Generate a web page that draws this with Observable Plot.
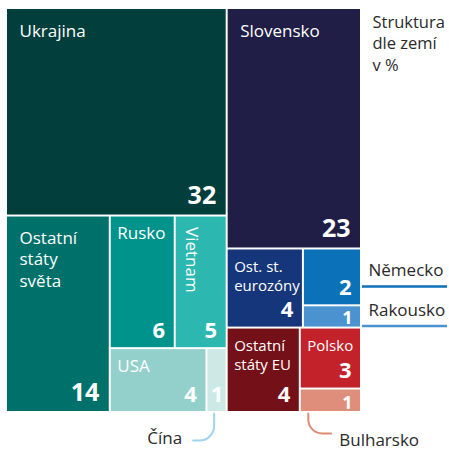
<!DOCTYPE html>
<html><head><meta charset="utf-8">
<script src="https://cdn.jsdelivr.net/npm/d3@7"></script>
<script src="https://cdn.jsdelivr.net/npm/@observablehq/plot@0.6"></script>
<style>
html,body{margin:0;padding:0;background:#fff;}
</style>
</head><body><div id="chart"></div>
<script>
// ---- data ----
const countries = ["Ukrajina","Ostatní\nstáty\nsvěta","Rusko","Vietnam","USA","Čína","Slovensko","Ost. st.\neurozóny","Německo","Rakousko","Ostatní\nstáty EU","Polsko","Bulharsko"];
const shares = [31.9,14.2,6.0,4.8,4.3,0.9,22.5,4.2,2.3,0.9,4.3,2.6,1.0];
const valueLabels = ["32","14","6","5","4","1","23","4","2","1","4","3","1"];
const colors = ["#023e3c","#00706a","#00938c","#2db7b1","#93d0cc","#cde9e6","#201e46","#16367b","#0b71b9","#4b93d0","#741017","#c3222b","#de8e7a"];
const outsideNames = ["Čína","Německo","Rakousko","Bulharsko"];
const titleLines = ["Struktura","dle zemí","v %"];
// grouping of the tiles (indices into the arrays above); even depth = side by side, odd depth = stacked
const structure = [[0,[1,[[2,3],[4,5]]]],[6,[7,[8,9]],[10,[11,12]]]];

// ---- layout ----
const W = 449, H = 449;
const mL = 7, mT = 9, mR = 89, mB = 38;
const innerW = W - mL - mR, innerH = H - mT - mB;

const root = d3.hierarchy(structure, d => Array.isArray(d) ? d : null)
  .sum(d => Array.isArray(d) ? 0 : shares[d]);
d3.treemap().tile(d3.treemapSliceDice).size([innerW, innerH]).paddingInner(2).round(false)(root);

const cells = root.leaves().map(n => {
  const i = n.data;
  const w = n.x1 - n.x0, h = n.y1 - n.y0;
  return {i, name: countries[i], label: valueLabels[i], value: shares[i], color: colors[i],
          x0: n.x0, x1: n.x1, y0: n.y0, y1: n.y1, w, h};
});

const inside = cells.filter(d => !outsideNames.includes(d.name));
const rotated = inside.filter(d => d.w < 55 && d.h > 100);
const flat = inside.filter(d => !rotated.includes(d));
const small = flat.filter(d => d.w < 80 && d.h < 100);
const normal = flat.filter(d => !small.includes(d));

const LH = 1.25;
const nameX = d => d.x0 + (d.w >= 98 ? 12 : 6);
const nameY = fs => d => d.y0 + (d.w >= 98 ? 27 : 22) - 0.71 * LH * fs;

const bigNums = cells.filter(d => d.value >= 10);
const tinyNums = cells.filter(d => d.value < 10 && d.h < 30);
const narrowNums = cells.filter(d => d.value < 10 && d.h >= 30 && d.w < 30);
const midNums = cells.filter(d => d.value < 10 && d.h >= 30 && d.w >= 30);

// annotations outside the tiles
const sideLabels = cells.filter(d => outsideNames.includes(d.name) && Math.abs(d.x1 - innerW) < 1 && d.y1 < innerH - 1)
  .map(d => ({...d, ly: (d.y0 + d.y1) / 2 + 9}));
const curveCfg = {"Čína": {dx: -21, dy: 27, sx: d => d.x1 - 12}, "Bulharsko": {dx: 23, dy: 20, sx: d => d.x0 + 7}};
const curveColors = {"Čína": "#9fd3ef", "Bulharsko": "#de8b75"};
const bottomLabels = cells.filter(d => curveCfg[d.name]).map(d => {
  const c = curveCfg[d.name];
  const sx = c.sx(d), sy = d.y1 + 2;
  return {...d, sx, sy, ex: sx + c.dx, ey: sy + c.dy, side: Math.sign(c.dx)};
});
const curvePts = bottomLabels.flatMap(d => [
  {name: d.name, x: d.sx, y: d.sy},
  {name: d.name, x: d.ex, y: d.ey}
]);
const leftBottom = bottomLabels.filter(d => d.side < 0);
const rightBottom = bottomLabels.filter(d => d.side > 0);

// leader line: down, then a rounded corner, then sideways
function cornerCurve(context) {
  let pts = [];
  return {
    areaStart() {}, areaEnd() {},
    lineStart() { pts = []; },
    point(x, y) { pts.push([+x, +y]); },
    lineEnd() {
      if (pts.length < 2) return;
      const p0 = pts[0], p1 = pts[pts.length - 1];
      const r = Math.min(Math.abs(p1[0] - p0[0]), Math.abs(p1[1] - p0[1])) * 0.7;
      context.moveTo(p0[0], p0[1]);
      context.arcTo(p0[0], p1[1], p1[0], p1[1], r);
      context.lineTo(p1[0], p1[1]);
    }
  };
}

const font = "'Open Sans', sans-serif";
const txt = "#2a2a2a";

const chart = Plot.plot({
  width: W, height: H,
  marginLeft: mL, marginTop: mT, marginRight: mR, marginBottom: mB,
  x: {domain: [0, innerW], axis: null},
  y: {domain: [0, innerH], reverse: true, axis: null},
  color: {type: "identity"},
  style: {fontFamily: font, background: "#fff", overflow: "visible"},
  marks: [
    Plot.rect(cells, {x1: "x0", x2: "x1", y1: "y0", y2: "y1", fill: "color"}),
    // names
    Plot.text(normal, {x: nameX, y: nameY(17), text: "name", textAnchor: "start", lineAnchor: "top", lineHeight: LH, fontSize: 17, fill: "white"}),
    Plot.text(small, {x: nameX, y: nameY(15), text: "name", textAnchor: "start", lineAnchor: "top", lineHeight: LH, fontSize: 15, fill: "white"}),
    Plot.text(rotated, {x: d => d.x0 + 10, y: d => d.y0 + 10, text: "name", rotate: 90, textAnchor: "start", lineAnchor: "bottom", fontSize: 17, fill: "white"}),
    // values
    Plot.text(bigNums, {x: d => d.x1 - 10, y: d => d.y1 - 11, text: "label", textAnchor: "end", lineAnchor: "bottom", fontSize: 25, fontWeight: "bold", fill: "white"}),
    Plot.text(midNums, {x: d => d.x1 - 9, y: d => d.y1 - 10, text: "label", textAnchor: "end", lineAnchor: "bottom", fontSize: 22, fontWeight: "bold", fill: "white"}),
    Plot.text(narrowNums, {x: d => (d.x0 + d.x1) / 2, y: d => d.y1 - 10, text: "label", textAnchor: "middle", lineAnchor: "bottom", fontSize: 22, fontWeight: "bold", fill: "white"}),
    Plot.text(tinyNums, {x: d => d.x1 - 8, y: d => d.y1 - 3, text: "label", textAnchor: "end", lineAnchor: "bottom", fontSize: 18, fontWeight: "bold", fill: "white"}),
    // side labels (Německo, Rakousko)
    Plot.ruleY(sideLabels, {y: "ly", x1: d => d.x1 + 2, x2: d => d.x1 + 87, stroke: "color", strokeWidth: 2.5}),
    Plot.text(sideLabels, {x: d => d.x1 + 8, y: d => d.ly - 10, text: "name", textAnchor: "start", lineAnchor: "bottom", fontSize: 17, fill: txt}),
    // bottom labels (Čína, Bulharsko)
    Plot.line(curvePts, {x: "x", y: "y", z: "name", curve: cornerCurve, stroke: d => curveColors[d.name], strokeWidth: 2}),
    Plot.text(leftBottom, {x: d => d.ex - 11, y: d => d.ey + 3, text: "name", textAnchor: "end", lineAnchor: "bottom", fontSize: 17, fill: txt}),
    Plot.text(rightBottom, {x: d => d.ex + 8, y: d => d.ey + 12, text: "name", textAnchor: "start", lineAnchor: "bottom", fontSize: 17, fill: txt}),
    // title
    Plot.text([titleLines.join("\n")], {frameAnchor: "top-right", dx: 12, dy: 3, text: d => d, textAnchor: "start", lineAnchor: "top", lineHeight: 1.3, fontSize: 16.5, fill: txt})
  ]
});
document.getElementById("chart").appendChild(chart);
</script>
</body></html>
